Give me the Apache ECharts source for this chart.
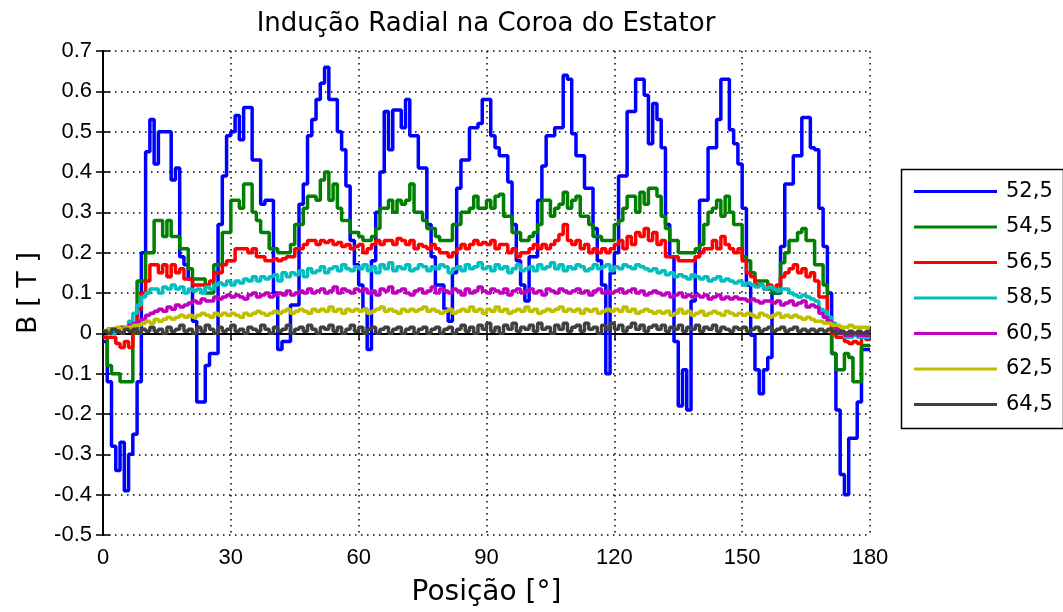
<!DOCTYPE html>
<html>
<head>
<meta charset="utf-8">
<title>Indução Radial na Coroa do Estator</title>
<script src="https://cdn.jsdelivr.net/npm/echarts@6/dist/echarts.min.js"></script>
<style>
  html, body { margin: 0; padding: 0; background: #fff; }
  #chart { width: 1063px; height: 612px; }
</style>
</head>
<body>
<div id="chart"></div>
<script>
// Radial flux density in the stator yoke, one sample per degree (0..180°)
const STEP_DEG = 1;
const seriesNames = ['52,5', '54,5', '56,5', '58,5', '60,5', '62,5', '64,5'];
const seriesColors = ['#0000ff', '#008000', '#ff0000', '#00bfbf', '#bf00bf', '#bfbf00', '#404040'];

const b525 = [
  -0.02, -0.12, -0.28, -0.34, -0.27, -0.39, -0.30, -0.25, -0.12, 0.20,
  0.45, 0.53, 0.42, 0.50, 0.50, 0.50, 0.38, 0.41, 0.19, 0.17,
  0.135, 0.03, -0.17, -0.17, -0.08, -0.05, -0.05, 0.27, 0.39, 0.49,
  0.50, 0.54, 0.48, 0.56, 0.56, 0.43, 0.43, 0.32, 0.33, 0.33,
  0.10, -0.04, -0.02, -0.02, 0.07, 0.07, 0.32, 0.37, 0.49, 0.53,
  0.58, 0.62, 0.66, 0.58, 0.58, 0.50, 0.455, 0.365, 0.23, 0.17,
  0.12, 0.06, -0.04, 0.18, 0.30, 0.40, 0.55, 0.455, 0.554, 0.554,
  0.51, 0.58, 0.49, 0.49, 0.41, 0.41, 0.27, 0.19, 0.12, 0.12,
  0.06, 0.03, 0.15, 0.36, 0.43, 0.43, 0.51, 0.51, 0.52, 0.58,
  0.58, 0.49, 0.46, 0.44, 0.44, 0.375, 0.27, 0.18, 0.12, 0.08,
  0.19, 0.19, 0.33, 0.415, 0.49, 0.49, 0.51, 0.51, 0.64, 0.63,
  0.495, 0.44, 0.44, 0.36, 0.36, 0.26, 0.18, 0.12, -0.10, 0.15,
  0.20, 0.39, 0.39, 0.55, 0.55, 0.63, 0.63, 0.59, 0.47, 0.57,
  0.53, 0.46, 0.27, 0.19, -0.02, -0.18, -0.09, -0.19, 0.08, 0.19,
  0.33, 0.33, 0.46, 0.46, 0.53, 0.63, 0.63, 0.505, 0.47, 0.42,
  0.31, 0.12, -0.005, -0.09, -0.15, -0.09, -0.06, 0.10, 0.10, 0.215,
  0.37, 0.37, 0.44, 0.44, 0.535, 0.535, 0.46, 0.455, 0.31, 0.215,
  0.10, -0.05, -0.19, -0.35, -0.40, -0.26, -0.26, -0.17, -0.04, -0.04,
  -0.04
];

const b545 = [
  -0.01, -0.08, -0.10, -0.10, -0.12, -0.12, -0.12, 0.00, 0.13, 0.13,
  0.20, 0.20, 0.28, 0.28, 0.24, 0.28, 0.24, 0.24, 0.21, 0.21,
  0.16, 0.135, 0.135, 0.135, 0.10, 0.10, 0.17, 0.17, 0.25, 0.25,
  0.33, 0.33, 0.31, 0.37, 0.37, 0.30, 0.28, 0.25, 0.25, 0.21,
  0.21, 0.20, 0.20, 0.20, 0.22, 0.27, 0.27, 0.31, 0.34, 0.34,
  0.33, 0.38, 0.40, 0.33, 0.37, 0.31, 0.28, 0.28, 0.25, 0.25,
  0.24, 0.23, 0.23, 0.24, 0.26, 0.31, 0.31, 0.33, 0.30, 0.33,
  0.32, 0.33, 0.37, 0.30, 0.30, 0.28, 0.26, 0.26, 0.24, 0.23,
  0.23, 0.23, 0.27, 0.27, 0.30, 0.30, 0.31, 0.34, 0.31, 0.31,
  0.33, 0.31, 0.34, 0.345, 0.29, 0.29, 0.25, 0.25, 0.23, 0.23,
  0.24, 0.25, 0.27, 0.33, 0.33, 0.29, 0.31, 0.32, 0.35, 0.31,
  0.33, 0.34, 0.29, 0.29, 0.27, 0.24, 0.24, 0.23, 0.23, 0.23,
  0.27, 0.28, 0.31, 0.34, 0.34, 0.30, 0.35, 0.32, 0.36, 0.36,
  0.34, 0.29, 0.26, 0.23, 0.23, 0.20, 0.20, 0.20, 0.20, 0.21,
  0.22, 0.27, 0.30, 0.31, 0.33, 0.29, 0.34, 0.30, 0.27, 0.27,
  0.19, 0.18, 0.15, 0.13, 0.13, 0.13, 0.11, 0.10, 0.10, 0.175,
  0.20, 0.23, 0.23, 0.25, 0.26, 0.23, 0.23, 0.17, 0.17, 0.12,
  0.03, -0.05, -0.09, -0.09, -0.05, -0.06, -0.12, -0.12, -0.03, -0.03,
  -0.03
];

const b565 = [
  -0.01, -0.01, -0.01, -0.025, -0.035, -0.02, -0.035, 0.02, 0.06, 0.10,
  0.13, 0.17, 0.17, 0.15, 0.17, 0.14, 0.17, 0.15, 0.16, 0.135,
  0.135, 0.12, 0.12, 0.12, 0.12, 0.13, 0.15, 0.15, 0.17, 0.18,
  0.18, 0.21, 0.21, 0.21, 0.20, 0.21, 0.19, 0.19, 0.18, 0.18,
  0.185, 0.18, 0.185, 0.19, 0.19, 0.21, 0.21, 0.22, 0.23, 0.23,
  0.22, 0.23, 0.225, 0.23, 0.22, 0.225, 0.215, 0.22, 0.21, 0.215,
  0.22, 0.20, 0.21, 0.22, 0.23, 0.22, 0.23, 0.23, 0.22, 0.235,
  0.23, 0.22, 0.23, 0.21, 0.22, 0.215, 0.21, 0.22, 0.21, 0.20,
  0.20, 0.19, 0.20, 0.21, 0.22, 0.21, 0.22, 0.23, 0.22, 0.225,
  0.22, 0.23, 0.21, 0.22, 0.22, 0.20, 0.21, 0.19, 0.20, 0.20,
  0.21, 0.22, 0.21, 0.22, 0.21, 0.22, 0.23, 0.245, 0.27, 0.23,
  0.22, 0.23, 0.21, 0.22, 0.20, 0.21, 0.20, 0.21, 0.20, 0.21,
  0.22, 0.23, 0.21, 0.24, 0.22, 0.25, 0.24, 0.26, 0.23, 0.25,
  0.22, 0.23, 0.19, 0.19, 0.19, 0.18, 0.18, 0.18, 0.18, 0.19,
  0.20, 0.21, 0.21, 0.23, 0.21, 0.24, 0.22, 0.21, 0.20, 0.21,
  0.18, 0.15, 0.14, 0.12, 0.12, 0.11, 0.12, 0.11, 0.12, 0.14,
  0.15, 0.16, 0.17, 0.15, 0.16, 0.14, 0.15, 0.13, 0.09, 0.09,
  0.03, 0.00, -0.01, -0.01, -0.02, -0.025, -0.02, -0.025, -0.01, -0.015,
  -0.015
];

const b585 = [
  0.005, 0.01, 0.00, 0.01, 0.005, 0.015, 0.03, 0.05, 0.07, 0.09,
  0.10, 0.11, 0.11, 0.10, 0.115, 0.11, 0.12, 0.11, 0.115, 0.10,
  0.11, 0.105, 0.11, 0.10, 0.115, 0.11, 0.12, 0.125, 0.12, 0.13,
  0.12, 0.13, 0.125, 0.135, 0.13, 0.14, 0.13, 0.14, 0.135, 0.14,
  0.145, 0.13, 0.15, 0.14, 0.15, 0.145, 0.155, 0.14, 0.16, 0.15,
  0.155, 0.165, 0.15, 0.16, 0.165, 0.155, 0.17, 0.16, 0.155, 0.165,
  0.16, 0.17, 0.155, 0.165, 0.15, 0.17, 0.16, 0.175, 0.155, 0.165,
  0.16, 0.17, 0.155, 0.16, 0.17, 0.165, 0.155, 0.165, 0.16, 0.17,
  0.165, 0.15, 0.16, 0.165, 0.155, 0.17, 0.16, 0.165, 0.175, 0.16,
  0.165, 0.155, 0.17, 0.16, 0.165, 0.15, 0.16, 0.17, 0.155, 0.16,
  0.165, 0.155, 0.17, 0.16, 0.165, 0.175, 0.16, 0.17, 0.155, 0.165,
  0.16, 0.17, 0.165, 0.155, 0.16, 0.17, 0.16, 0.165, 0.17, 0.155,
  0.165, 0.16, 0.17, 0.165, 0.16, 0.17, 0.165, 0.16, 0.155, 0.16,
  0.15, 0.155, 0.145, 0.15, 0.14, 0.145, 0.14, 0.135, 0.145, 0.14,
  0.135, 0.14, 0.13, 0.135, 0.14, 0.13, 0.135, 0.13, 0.125, 0.13,
  0.12, 0.125, 0.12, 0.115, 0.12, 0.11, 0.115, 0.11, 0.105, 0.11,
  0.11, 0.10, 0.095, 0.09, 0.095, 0.09, 0.085, 0.08, 0.06, 0.055,
  0.04, 0.025, 0.01, 0.00, -0.01, -0.01, -0.005, -0.01, -0.01, -0.01,
  -0.01
];

const b605 = [
  0.005, 0.01, 0.01, 0.01, 0.015, 0.01, 0.02, 0.025, 0.03, 0.035,
  0.045, 0.05, 0.055, 0.06, 0.055, 0.065, 0.06, 0.07, 0.065, 0.07,
  0.075, 0.08, 0.075, 0.085, 0.08, 0.08, 0.09, 0.085, 0.09, 0.095,
  0.09, 0.095, 0.09, 0.085, 0.095, 0.10, 0.09, 0.095, 0.10, 0.09,
  0.095, 0.10, 0.095, 0.105, 0.095, 0.10, 0.105, 0.10, 0.11, 0.10,
  0.105, 0.11, 0.10, 0.105, 0.115, 0.10, 0.11, 0.105, 0.10, 0.11,
  0.105, 0.11, 0.10, 0.105, 0.095, 0.11, 0.105, 0.115, 0.10, 0.105,
  0.11, 0.10, 0.095, 0.105, 0.11, 0.10, 0.105, 0.115, 0.10, 0.11,
  0.105, 0.10, 0.11, 0.105, 0.095, 0.11, 0.10, 0.105, 0.115, 0.105,
  0.10, 0.11, 0.105, 0.10, 0.11, 0.095, 0.105, 0.11, 0.10, 0.105,
  0.11, 0.10, 0.105, 0.095, 0.11, 0.105, 0.10, 0.11, 0.105, 0.10,
  0.105, 0.11, 0.10, 0.105, 0.095, 0.105, 0.11, 0.10, 0.105, 0.10,
  0.105, 0.11, 0.10, 0.105, 0.11, 0.10, 0.105, 0.095, 0.10, 0.105,
  0.10, 0.095, 0.10, 0.09, 0.095, 0.10, 0.09, 0.095, 0.09, 0.095,
  0.09, 0.095, 0.085, 0.09, 0.095, 0.085, 0.09, 0.085, 0.09, 0.085,
  0.085, 0.08, 0.085, 0.08, 0.075, 0.08, 0.08, 0.075, 0.08, 0.07,
  0.075, 0.08, 0.07, 0.075, 0.08, 0.065, 0.07, 0.065, 0.05, 0.04,
  0.03, 0.02, 0.01, 0.00, -0.005, -0.005, 0.00, -0.005, -0.005, -0.005,
  -0.005
];

const b625 = [
  0.005, 0.01, 0.01, 0.015, 0.01, 0.015, 0.015, 0.02, 0.02, 0.025,
  0.03, 0.025, 0.035, 0.03, 0.035, 0.04, 0.035, 0.04, 0.045, 0.04,
  0.045, 0.04, 0.045, 0.05, 0.045, 0.04, 0.05, 0.045, 0.05, 0.045,
  0.05, 0.045, 0.04, 0.05, 0.045, 0.05, 0.055, 0.05, 0.045, 0.05,
  0.055, 0.05, 0.055, 0.06, 0.05, 0.055, 0.06, 0.055, 0.05, 0.06,
  0.055, 0.06, 0.055, 0.065, 0.055, 0.06, 0.05, 0.06, 0.055, 0.06,
  0.055, 0.06, 0.05, 0.055, 0.06, 0.065, 0.055, 0.06, 0.055, 0.05,
  0.06, 0.055, 0.06, 0.055, 0.06, 0.065, 0.055, 0.06, 0.055, 0.05,
  0.055, 0.06, 0.05, 0.055, 0.06, 0.055, 0.065, 0.055, 0.06, 0.05,
  0.06, 0.055, 0.065, 0.055, 0.06, 0.05, 0.055, 0.06, 0.055, 0.065,
  0.055, 0.06, 0.05, 0.055, 0.06, 0.055, 0.06, 0.065, 0.055, 0.06,
  0.055, 0.06, 0.05, 0.06, 0.055, 0.06, 0.05, 0.055, 0.06, 0.055,
  0.06, 0.055, 0.065, 0.055, 0.06, 0.05, 0.055, 0.06, 0.055, 0.05,
  0.055, 0.05, 0.055, 0.045, 0.05, 0.06, 0.05, 0.055, 0.045, 0.05,
  0.055, 0.045, 0.05, 0.055, 0.05, 0.045, 0.055, 0.05, 0.045, 0.05,
  0.045, 0.05, 0.045, 0.04, 0.05, 0.045, 0.04, 0.045, 0.05, 0.04,
  0.045, 0.04, 0.045, 0.04, 0.035, 0.04, 0.035, 0.03, 0.03, 0.025,
  0.025, 0.02, 0.02, 0.015, 0.015, 0.02, 0.015, 0.015, 0.015, 0.015,
  0.015
];

const b645 = [
  0.005, 0.00, 0.01, 0.005, 0.00, 0.01, 0.005, 0.01, 0.00, 0.01,
  0.005, 0.015, 0.005, 0.01, 0.00, 0.015, 0.005, 0.01, 0.02, 0.005,
  0.01, 0.00, 0.015, 0.005, 0.02, 0.01, 0.00, 0.015, 0.005, 0.01,
  0.02, 0.005, 0.01, 0.00, 0.015, 0.01, 0.005, 0.02, 0.01, 0.00,
  0.015, 0.005, 0.01, 0.02, 0.00, 0.01, 0.015, 0.005, 0.02, 0.01,
  0.00, 0.015, 0.01, 0.02, 0.005, 0.015, 0.00, 0.01, 0.02, 0.005,
  0.015, 0.00, 0.01, 0.015, 0.00, 0.01, 0.015, 0.00, 0.01, 0.015,
  0.00, 0.01, 0.015, 0.00, 0.01, 0.015, 0.00, 0.01, 0.015, 0.00,
  0.01, 0.015, 0.00, 0.01, 0.02, 0.005, 0.015, 0.00, 0.02, 0.01,
  0.025, 0.005, 0.015, 0.00, 0.02, 0.01, 0.025, 0.005, 0.015, 0.01,
  0.02, 0.005, 0.025, 0.01, 0.015, 0.00, 0.02, 0.01, 0.025, 0.005,
  0.015, 0.02, 0.005, 0.025, 0.01, 0.015, 0.00, 0.02, 0.01, 0.025,
  0.01, 0.02, 0.005, 0.015, 0.025, 0.01, 0.02, 0.005, 0.015, 0.02,
  0.01, 0.02, 0.005, 0.015, 0.01, 0.02, 0.005, 0.015, 0.01, 0.02,
  0.005, 0.015, 0.01, 0.02, 0.005, 0.015, 0.01, 0.005, 0.015, 0.01,
  0.015, 0.005, 0.01, 0.015, 0.005, 0.01, 0.015, 0.005, 0.01, 0.015,
  0.005, 0.01, 0.015, 0.005, 0.01, 0.005, 0.01, 0.005, 0.01, 0.005,
  0.01, 0.005, 0.00, 0.005, 0.00, 0.005, 0.00, 0.005, 0.00, 0.005,
  0.005
];

const seriesValues = [b525, b545, b565, b585, b605, b625, b645];

const xTicks = { min: 0, max: 180, interval: 30 };
const yTicks = { min: -0.5, max: 0.7, interval: 0.1 };

const FONT_TEXT = 'DejaVu Sans';
const FONT_TICK = 'Liberation Sans';
const LINE_W = 3.5;

const chart = echarts.init(document.getElementById('chart'), null, { renderer: 'canvas' });

const dotted = { type: [1.5, 4.5], color: '#000', width: 1.5 };
const frameLine = { show: true, lineStyle: { color: '#000', width: 2 } };
const innerTick = { show: true, inside: true, length: 7, lineStyle: { color: '#000', width: 1.5 } };

function yLabel(v) {
  if (Math.abs(v) < 1e-9) return '0';
  return v.toFixed(1);
}

const series = seriesNames.map((name, k) => ({
  name: name,
  type: 'line',
  step: 'end',
  symbol: 'none',
  showSymbol: false,
  animation: false,
  xAxisIndex: 0,
  yAxisIndex: 0,
  lineStyle: { color: seriesColors[k], width: LINE_W },
  itemStyle: { color: seriesColors[k] },
  data: seriesValues[k].map((v, i) => [i * STEP_DEG, v])
}));

chart.setOption({
  backgroundColor: '#fff',
  animation: false,
  title: {
    text: 'Indução Radial na Coroa do Estator',
    left: 481,
    textAlign: 'center',
    top: 6,
    textStyle: { fontFamily: FONT_TEXT, fontSize: 26, fontWeight: 'normal', color: '#000' }
  },
  grid: { left: 103, right: 193, top: 51, bottom: 75, containLabel: false },
  legend: {
    orient: 'vertical',
    left: 914,
    top: 181,
    icon: 'rect',
    itemWidth: 83,
    itemHeight: 3,
    itemGap: 14.5,
    padding: 0,
    data: seriesNames,
    textStyle: { fontFamily: FONT_TEXT, fontSize: 21, color: '#000', padding: [0, 0, 0, 4] }
  },
  graphic: [{
    type: 'rect',
    left: 899,
    top: 167,
    shape: { width: 162, height: 259 },
    style: { fill: 'none', stroke: '#000', lineWidth: 1.5 },
    silent: true
  }],
  xAxis: [{
    type: 'value',
    position: 'bottom',
    min: xTicks.min, max: xTicks.max, interval: xTicks.interval,
    axisLine: frameLine,
    axisTick: innerTick,
    axisLabel: { fontFamily: FONT_TICK, fontSize: 22, color: '#000', margin: 12 },
    splitLine: { show: true, lineStyle: dotted },
    name: 'Posição [°]',
    nameLocation: 'middle',
    nameGap: 44,
    nameTextStyle: { fontFamily: FONT_TEXT, fontSize: 28, color: '#000' }
  }, {
    type: 'value',
    position: 'top',
    min: xTicks.min, max: xTicks.max, interval: xTicks.interval,
    axisLine: frameLine,
    axisTick: innerTick,
    axisLabel: { show: false },
    splitLine: { show: false }
  }],
  yAxis: [{
    type: 'value',
    position: 'left',
    min: yTicks.min, max: yTicks.max, interval: yTicks.interval,
    axisLine: frameLine,
    axisTick: innerTick,
    axisLabel: { fontFamily: FONT_TICK, fontSize: 22, color: '#000', margin: 11, formatter: yLabel },
    splitLine: { show: true, lineStyle: dotted },
    name: 'B [ T ]',
    nameLocation: 'middle',
    nameGap: 61,
    nameRotate: 90,
    nameTextStyle: { fontFamily: FONT_TEXT, fontSize: 27, color: '#000' }
  }, {
    type: 'value',
    position: 'right',
    min: yTicks.min, max: yTicks.max, interval: yTicks.interval,
    axisLine: frameLine,
    axisTick: innerTick,
    axisLabel: { show: false },
    splitLine: { show: false }
  }],
  series: series
});
</script>
</body>
</html>
